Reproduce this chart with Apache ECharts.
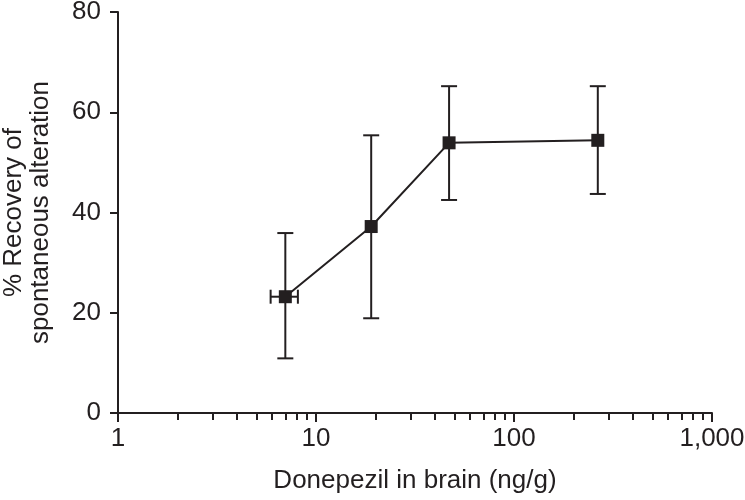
<!DOCTYPE html>
<html>
<head>
<meta charset="utf-8">
<script src="https://cdn.jsdelivr.net/npm/echarts@6/dist/echarts.min.js"></script>
<style>html,body{margin:0;padding:0;background:#fff}#c{width:745px;height:500px}</style>
</head>
<body>
<div id="c"></div>
<script>
// Data
const doseX = [7.0, 19, 47, 265];
const recovery = [23.2, 37.2, 53.9, 54.4];
const errLow = [10.9, 18.9, 42.5, 43.7];
const errHigh = [35.9, 55.4, 65.2, 65.2];
const doseLow = [5.9, null, null, null];
const doseHigh = [8.1, null, null, null];
const majorTicks = [1, 10, 100, 1000];
const minorTicks = [2,3,4,5,6,7,8,9,20,30,40,50,60,70,80,90,200,300,400,500,600,700,800,900];
const yTicks = [0, 20, 40, 60, 80];

const ink = '#231f20';
const font = 'Liberation Sans, Arial, sans-serif';

const lineData = doseX.map((x, i) => [x, recovery[i]]);
const errData = doseX.map((x, i) => [x, recovery[i], errLow[i], errHigh[i], doseLow[i] == null ? x : doseLow[i], doseHigh[i] == null ? x : doseHigh[i]]);

const chart = echarts.init(document.getElementById('c'), null, {renderer: 'canvas'});
chart.setOption({
  animation: false,
  backgroundColor: '#fff',
  grid: {left: 118, right: 33, top: 12, bottom: 87, containLabel: false, outerBoundsMode: 'none'},
  xAxis: [{
    type: 'log', logBase: 10, min: 1, max: 1000,
    name: 'Donepezil in brain (ng/g)', nameLocation: 'middle', nameGap: 55,
    nameTextStyle: {fontFamily: font, fontSize: 26, color: ink},
    axisLine: {show: true, onZero: false, lineStyle: {color: ink, width: 2}},
    axisTick: {show: true, inside: false, length: 9, lineStyle: {color: ink, width: 2}, customValues: majorTicks},
    axisLabel: {show: true, margin: 13, fontFamily: font, fontSize: 26, color: ink, customValues: majorTicks,
      formatter: v => Number(v).toLocaleString('en-US')},
    minorTick: {show: false},
    splitLine: {show: false}
  }, {
    type: 'log', logBase: 10, min: 1, max: 1000, position: 'bottom',
    axisLine: {show: false, onZero: false},
    axisTick: {show: true, inside: false, length: 7, lineStyle: {color: ink, width: 2}, customValues: minorTicks},
    axisLabel: {show: false},
    splitLine: {show: false}
  }],
  yAxis: {
    type: 'value', min: 0, max: 80, interval: 20,
    name: '% Recovery of\nspontaneous alteration', nameLocation: 'middle', nameGap: 64,
    nameTextStyle: {fontFamily: font, fontSize: 26, color: ink, lineHeight: 27},
    axisLine: {show: true, lineStyle: {color: ink, width: 2}},
    axisTick: {show: true, inside: false, length: 8, lineStyle: {color: ink, width: 2}},
    axisLabel: {margin: 17, fontFamily: font, fontSize: 26, color: ink},
    splitLine: {show: false}
  },
  series: [{
    type: 'custom',
    xAxisIndex: 0,
    data: errData,
    z: 2,
    renderItem: function (params, api) {
      const x = api.value(0), y = api.value(1);
      const lo = api.coord([x, api.value(2)]);
      const hi = api.coord([x, api.value(3)]);
      const xl = api.coord([api.value(4), y]);
      const xh = api.coord([api.value(5), y]);
      const cap = 8;
      const st = {stroke: ink, lineWidth: 2};
      const children = [
        {type: 'line', shape: {x1: lo[0], y1: lo[1], x2: hi[0], y2: hi[1]}, style: st},
        {type: 'line', shape: {x1: lo[0] - cap, y1: lo[1], x2: lo[0] + cap, y2: lo[1]}, style: st},
        {type: 'line', shape: {x1: hi[0] - cap, y1: hi[1], x2: hi[0] + cap, y2: hi[1]}, style: st}
      ];
      if (xh[0] - xl[0] > 1) {
        const capV = 7;
        children.push(
          {type: 'line', shape: {x1: xl[0], y1: xl[1], x2: xh[0], y2: xh[1]}, style: st},
          {type: 'line', shape: {x1: xl[0], y1: xl[1] - capV, x2: xl[0], y2: xl[1] + capV}, style: st},
          {type: 'line', shape: {x1: xh[0], y1: xh[1] - capV, x2: xh[0], y2: xh[1] + capV}, style: st}
        );
      }
      return {type: 'group', children: children};
    }
  }, {
    type: 'line',
    xAxisIndex: 0,
    data: lineData,
    z: 3,
    symbol: 'rect', symbolSize: 13,
    lineStyle: {color: ink, width: 2},
    itemStyle: {color: ink},
    silent: true
  }]
});
</script>
</body>
</html>
